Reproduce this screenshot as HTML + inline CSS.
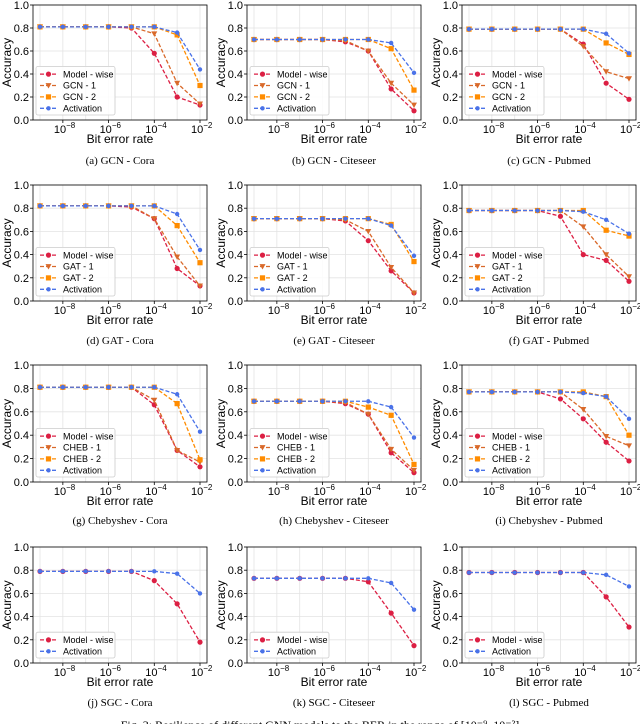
<!DOCTYPE html>
<html><head><meta charset="utf-8">
<style>
html,body{margin:0;padding:0;background:#fff;}
svg{display:block;}
</style></head>
<body>
<svg id="fig" width="640" height="724" viewBox="0 0 640 724" xmlns="http://www.w3.org/2000/svg"></svg>
<script>
// ---- data ----
const berExponents = [-9,-8,-7,-6,-5,-4,-3,-2];
const xTickExps = [-8,-6,-4,-2];
const yTicks = [0,0.2,0.4,0.6,0.8,1.0];
const yTickLabels = ["0.0","0.2","0.4","0.6","0.8","1.0"];
const panelCaptions = ["(a)  GCN  -  Cora","(b)  GCN  -  Citeseer","(c)  GCN  -  Pubmed",
 "(d)  GAT  -  Cora","(e)  GAT  -  Citeseer","(f)  GAT  -  Pubmed",
 "(g)  Chebyshev  -  Cora","(h)  Chebyshev  -  Citeseer","(i)  Chebyshev  -  Pubmed",
 "(j)  SGC  -  Cora","(k)  SGC  -  Citeseer","(l)  SGC  -  Pubmed"];
const layerNames = ["GCN","GCN","GCN","GAT","GAT","GAT","CHEB","CHEB","CHEB","SGC","SGC","SGC"];
const modelWise = [
 [.81,.81,.81,.81,.80,.58,.20,.13],
 [.70,.70,.70,.70,.68,.60,.27,.08],
 [.79,.79,.79,.79,.79,.66,.32,.18],
 [.82,.82,.82,.82,.81,.71,.28,.13],
 [.71,.71,.71,.71,.69,.52,.26,.07],
 [.78,.78,.78,.78,.73,.40,.35,.17],
 [.81,.81,.81,.81,.81,.66,.27,.13],
 [.69,.69,.69,.69,.67,.58,.25,.08],
 [.77,.77,.77,.77,.71,.54,.34,.18],
 [.79,.79,.79,.79,.79,.71,.51,.18],
 [.73,.73,.73,.73,.73,.70,.43,.15],
 [.78,.78,.78,.78,.78,.78,.57,.31]];
const layer1 = [
 [.81,.81,.81,.81,.81,.75,.32,.14],
 [.70,.70,.70,.70,.69,.60,.32,.13],
 [.79,.79,.79,.79,.79,.64,.42,.36],
 [.82,.82,.82,.82,.82,.71,.38,.13],
 [.71,.71,.71,.71,.70,.60,.29,.07],
 [.78,.78,.78,.78,.78,.64,.40,.21],
 [.81,.81,.81,.81,.81,.70,.27,.17],
 [.69,.69,.69,.69,.68,.58,.28,.10],
 [.77,.77,.77,.77,.77,.62,.39,.31],
 null,null,null];
const layer2 = [
 [.81,.81,.81,.81,.81,.81,.74,.30],
 [.70,.70,.70,.70,.70,.70,.62,.26],
 [.79,.79,.79,.79,.79,.79,.67,.57],
 [.82,.82,.82,.82,.82,.82,.65,.33],
 [.71,.71,.71,.71,.71,.71,.66,.34],
 [.78,.78,.78,.78,.78,.78,.61,.56],
 [.81,.81,.81,.81,.81,.81,.67,.19],
 [.69,.69,.69,.69,.69,.64,.57,.15],
 [.77,.77,.77,.77,.77,.77,.73,.40],
 null,null,null];
const activation = [
 [.81,.81,.81,.81,.81,.81,.76,.44],
 [.70,.70,.70,.70,.70,.70,.67,.41],
 [.79,.79,.79,.79,.79,.79,.75,.58],
 [.82,.82,.82,.82,.82,.82,.75,.44],
 [.71,.71,.71,.71,.71,.71,.65,.39],
 [.78,.78,.78,.78,.78,.77,.70,.58],
 [.81,.81,.81,.81,.81,.81,.75,.43],
 [.69,.69,.69,.69,.69,.69,.64,.38],
 [.77,.77,.77,.77,.77,.76,.73,.54],
 [.79,.79,.79,.79,.79,.79,.77,.60],
 [.73,.73,.73,.73,.73,.73,.69,.46],
 [.78,.78,.78,.78,.78,.78,.76,.66]];

// ---- layout ----
const colFirst = [40,254,469];
const rowTop = [5,185,365,547];
const rowBot = [120,301,482,663];
const capY = [164,344,524,706];
const SPAN = 160;
const NS = "http://www.w3.org/2000/svg";
const svg = document.getElementById('fig');
const sans = '"Liberation Sans", "DejaVu Sans", sans-serif';
function mk(tag, attrs, parent){
  const e = document.createElementNS(NS, tag);
  for (const k in attrs) e.setAttribute(k, attrs[k]);
  (parent||svg).appendChild(e);
  return e;
}
const colors = {mw:"#dc1f43", l1:"#d9692a", l2:"#ff8c00", act:"#4a72e8"};

function marker(g, type, x, y, c){
  let m;
  if (type==="circle") m = mk('circle',{cx:x,cy:y,r:2.6,fill:c},g);
  else if (type==="tri") m = mk('polygon',{points:`${x-3},${y-2.4} ${x+3},${y-2.4} ${x},${y+3}`,fill:c},g);
  else if (type==="sq") m = mk('rect',{x:x-2.6,y:y-2.6,width:5.2,height:5.2,fill:c},g);
  else m = mk('circle',{cx:x,cy:y,r:2.2,fill:c},g);
  
  
}

for (let p=0;p<12;p++){
  const r = Math.floor(p/3), c = p%3;
  const x0 = colFirst[c], top = rowTop[r], bot = rowBot[r];
  const fl = x0-7, fr = x0+SPAN+7;
  const sx = e => x0 + (e-(-9))*(SPAN/7);
  const sy = v => bot - v*(bot-top);
  const g = mk('g',{});
  
  
  const gg = mk('g',{},g);
  
  
  yTicks.forEach(v=>mk('line',{x1:fl,x2:fr,y1:sy(v),y2:sy(v),stroke:"#e3e3e3","stroke-width":0.8},gg));
  berExponents.forEach(e=>mk('line',{x1:sx(e),x2:sx(e),y1:top,y2:bot,stroke:"#e3e3e3","stroke-width":0.8},gg));
  yTicks.forEach((v,i)=>{
    mk('line',{x1:fl-3,x2:fl,y1:sy(v),y2:sy(v),stroke:"#000","stroke-width":0.8},g);
    const t = mk('text',{x:fl-4,y:sy(v)+4,"text-anchor":"end","font-size":11,"font-family":sans},g);
    t.textContent = yTickLabels[i];
    
    
  });
  xTickExps.forEach(e=>{
    mk('line',{x1:sx(e),x2:sx(e),y1:bot,y2:bot+3,stroke:"#000","stroke-width":0.8},g);
    const t = mk('text',{x:sx(e)-9,y:bot+13,"font-size":11,"font-family":sans},g);
    
    
    t.textContent = "10";
    const s = mk('tspan',{dy:-5,"font-size":8},t);
    s.textContent = "\u2212"+(-e);
  });
  const xt = mk('text',{x:(fl+fr)/2,y:bot+23,"text-anchor":"middle","font-size":12,"font-family":sans},g);
  xt.textContent = "Bit error rate";
  
  
  const yc = (top+bot)/2;
  const yt = mk('text',{x:fl-22,y:yc,"text-anchor":"middle","font-size":12,"font-family":sans,transform:`rotate(-90 ${fl-22} ${yc})`},g);
  yt.textContent = "Accuracy";
  
  
  const series = [];
  const ln = layerNames[p];
  series.push({d:modelWise[p], c:colors.mw, m:"circle", n:"Model - wise", id:"model-wise"});
  if (layer1[p]) series.push({d:layer1[p], c:colors.l1, m:"tri", n:ln+" - 1", id:"layer-1"});
  if (layer2[p]) series.push({d:layer2[p], c:colors.l2, m:"sq", n:ln+" - 2", id:"layer-2"});
  series.push({d:activation[p], c:colors.act, m:"act", n:"Activation", id:"activation"});
  series.forEach(s=>{
    const sg = mk('g',{},g);
    
    
    const pts = s.d.map((v,i)=>sx(berExponents[i])+","+sy(v)).join(" ");
    mk('polyline',{points:pts,fill:"none",stroke:s.c,"stroke-width":1.3,"stroke-dasharray":"4,2"},sg);
    s.d.forEach((v,i)=>marker(sg,s.m,sx(berExponents[i]),sy(v),s.c));
  });
  const fr_ = mk('rect',{x:fl,y:top,width:fr-fl,height:bot-top,fill:"none",stroke:"#000","stroke-width":0.8},g);
  
  
  const n = series.length;
  const lh = 11.4;
  const lgH = n*lh+3;
  const lgTop = bot-5-lgH;
  const lg = mk('g',{},g);
  
  
  mk('rect',{x:fl+3,y:lgTop,width:79,height:lgH,rx:2,fill:"#fff","fill-opacity":0.85,stroke:"#cccccc","stroke-width":0.8},lg);
  series.forEach((s,i)=>{
    const yy = lgTop+2+lh*(i+0.5);
    const e = mk('g',{},lg);
    
    
    mk('line',{x1:fl+7,x2:fl+24,y1:yy,y2:yy,stroke:s.c,"stroke-width":1.3,"stroke-dasharray":"4,2"},e);
    marker(e,s.m,fl+15.5,yy,s.c);
    const t = mk('text',{x:fl+30,y:yy+3.2,"font-size":9,"font-family":sans},e);
    t.textContent = s.n;
  });
  const cap = mk('text',{x:(fl+fr)/2,y:capY[r],"text-anchor":"middle","font-size":11,"font-family":'"Liberation Serif", serif'},svg);
  cap.textContent = panelCaptions[p];
  
  
}
const fc = mk('text',{x:320,y:729,"text-anchor":"middle","font-size":12,"font-family":'"Liberation Serif", serif'});
fc.textContent = "Fig. 3: Resilience of different GNN models to the BER in the range of [10\u207B\u2079, 10\u207B\u00B2]";


</script>
</body></html>
